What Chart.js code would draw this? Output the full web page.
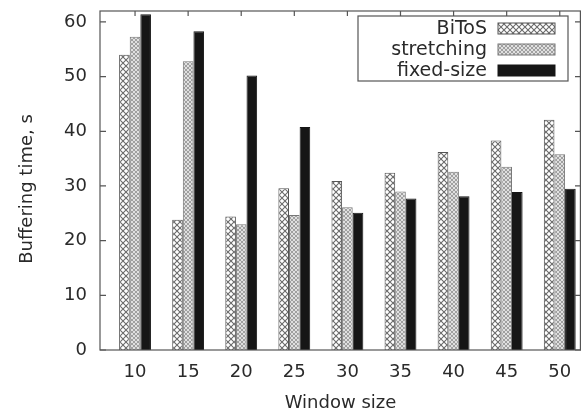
<!DOCTYPE html>
<html>
<head>
<meta charset="utf-8">
<script src="https://cdn.jsdelivr.net/npm/chart.js@4.4.1/dist/chart.umd.min.js"></script>
<style>
  html, body { margin: 0; padding: 0; background: #fff; }
  #wrap { width: 582px; height: 414px; }
</style>
</head>
<body>
<div id="wrap"><canvas id="c" width="582" height="414"></canvas></div>
<script>
// ---- data ----
const windowSizes = [10, 15, 20, 25, 30, 35, 40, 45, 50];
const bitos      = [54.0, 23.8, 24.4, 29.6, 30.9, 32.4, 36.2, 38.3, 42.1];
const stretching = [57.3, 52.8, 23.0, 24.7, 26.1, 29.0, 32.6, 33.5, 35.8];
const fixedSize  = [61.4, 58.3, 50.2, 40.8, 25.1, 27.7, 28.1, 28.9, 29.5];
const yTicks = [0, 10, 20, 30, 40, 50, 60];
const seriesNames = ['BiToS', 'stretching', 'fixed-size'];
const xTitle = 'Window size';
const yTitle = 'Buffering time, s';

// ---- patterns ----
function makePattern(size, bg, line, lw) {
  const c = document.createElement('canvas');
  c.width = size; c.height = size;
  const g = c.getContext('2d');
  g.fillStyle = bg; g.fillRect(0, 0, size, size);
  g.strokeStyle = line; g.lineWidth = lw;
  g.beginPath();
  g.moveTo(0, 0); g.lineTo(size, size);
  g.moveTo(size, 0); g.lineTo(0, size);
  g.stroke();
  return document.getElementById('c').getContext('2d').createPattern(c, 'repeat');
}
const patBitos = makePattern(6, '#ffffff', '#6a6a6a', 1.1);
const patStretch = makePattern(4, '#e0e0e0', '#989898', 0.9);
const fills = [patBitos, patStretch, '#161616'];
const borders = ['#555', '#777', '#161616'];

const toXY = arr => arr.map((v, i) => ({ x: windowSizes[i], y: v }));

const FONT = "'DejaVu Sans', 'Liberation Sans', Arial, sans-serif";
const TXT = '#2a2a2a';

const framePlugin = {
  id: 'frame',
  afterDatasetsDraw(chart) {
    const { ctx, chartArea: a, scales } = chart;
    ctx.save();
    ctx.strokeStyle = '#555';
    ctx.lineWidth = 1.2;
    ctx.strokeRect(a.left, a.top, a.right - a.left - 0.6, a.bottom - a.top);
    ctx.beginPath();
    scales.y.ticks.forEach(t => {
      const py = scales.y.getPixelForValue(t.value);
      ctx.moveTo(a.left, py); ctx.lineTo(a.left + 6, py);
      ctx.moveTo(a.right, py); ctx.lineTo(a.right - 6, py);
    });
    scales.x.ticks.forEach(t => {
      const px = scales.x.getPixelForValue(t.value);
      ctx.moveTo(px, a.top); ctx.lineTo(px, a.top + 5);
    });
    ctx.stroke();

    // y axis title
    ctx.save();
    ctx.translate(27, 189);
    ctx.rotate(-Math.PI / 2);
    ctx.font = '18px ' + FONT;
    ctx.fillStyle = TXT;
    ctx.textAlign = 'center';
    ctx.textBaseline = 'middle';
    ctx.fillText(yTitle, 0, 0);
    ctx.restore();

    // legend
    const bx = 358, by = 16, bw = 210, bh = 65;
    ctx.fillStyle = '#fff';
    ctx.fillRect(bx, by, bw, bh);
    ctx.strokeStyle = '#555';
    ctx.lineWidth = 1.2;
    ctx.strokeRect(bx, by, bw, bh);
    ctx.font = '19px ' + FONT;
    ctx.textAlign = 'right';
    ctx.textBaseline = 'middle';
    chart.data.datasets.forEach((ds, i) => {
      const cy = 28 + i * 21;
      ctx.fillStyle = TXT;
      ctx.fillText(ds.label, 487, cy + 1);
      ctx.fillStyle = ds.backgroundColor;
      ctx.fillRect(498, cy - 5, 57, 11);
      ctx.strokeStyle = ds.borderColor;
      ctx.lineWidth = 1;
      ctx.strokeRect(498, cy - 5, 57, 11);
    });
    ctx.restore();
  }
};

new Chart(document.getElementById('c'), {
  type: 'bar',
  data: {
    datasets: [bitos, stretching, fixedSize].map((arr, i) => ({
      label: seriesNames[i],
      data: toXY(arr),
      backgroundColor: fills[i],
      borderColor: borders[i],
      borderWidth: 1,
      categoryPercentage: 0.6,
      barPercentage: 1.0
    }))
  },
  options: {
    responsive: false,
    animation: false,
    devicePixelRatio: 1,
    layout: { padding: { top: 11, right: 1, left: 0, bottom: 0 } },
    plugins: { legend: { display: false }, tooltip: { enabled: false } },
    scales: {
      x: {
        type: 'linear',
        offset: false,
        min: 6.7, max: 52,
        grid: { display: false, drawTicks: false },
        border: { display: false },
        afterBuildTicks: s => { s.ticks = windowSizes.map(v => ({ value: v })); },
        afterFit: s => { s.height = 64; s.paddingLeft = 0; s.paddingRight = 0; },
        ticks: { color: TXT, font: { family: FONT, size: 18 }, padding: 12, maxRotation: 0, autoSkip: false },
        title: { display: true, text: xTitle, color: TXT, font: { family: FONT, size: 18 }, padding: { top: 2, bottom: 0 } }
      },
      y: {
        min: 0, max: 62,
        grid: { display: false, drawTicks: false },
        border: { display: false },
        afterBuildTicks: s => { s.ticks = yTicks.map(v => ({ value: v })); },
        afterFit: s => { s.width = 100; s.paddingTop = 0; s.paddingBottom = 0; },
        ticks: { color: TXT, font: { family: FONT, size: 18 }, padding: 13 },
        title: { display: false }
      }
    }
  },
  plugins: [framePlugin]
});
</script>
</body>
</html>
